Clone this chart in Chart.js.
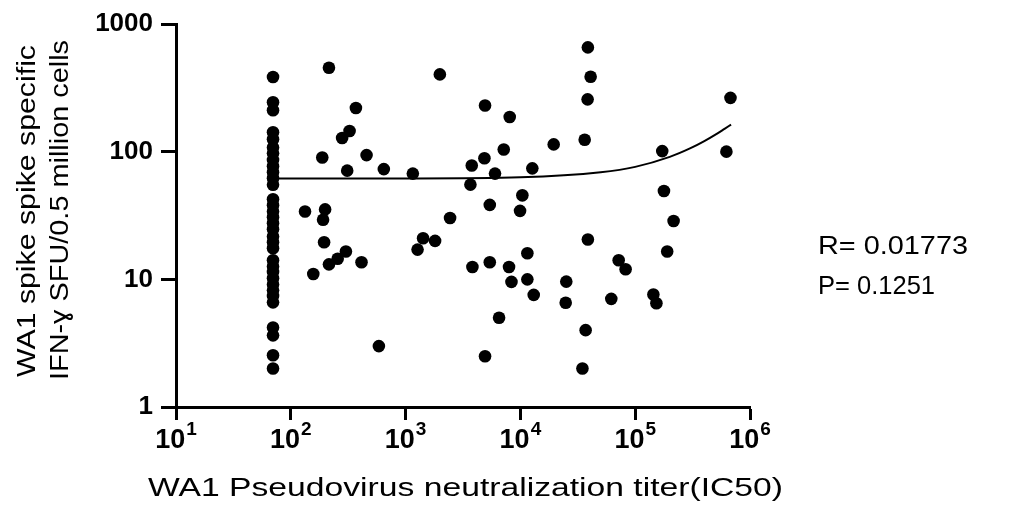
<!DOCTYPE html>
<html>
<head>
<meta charset="utf-8">
<script src="https://cdn.jsdelivr.net/npm/chart.js@4.4.1/dist/chart.umd.min.js"></script>
<style>
html,body{margin:0;padding:0;background:#fff;}
#wrap{width:1014px;height:527px;}
</style>
</head>
<body>
<div id="wrap"><canvas id="c" width="1014" height="527"></canvas></div>
<script>
// ---- data ----
const xTickValues = [10, 100, 1000, 10000, 100000, 1000000];
const xTickExponents = ['1', '2', '3', '4', '5', '6'];
const yTickValues = [1, 10, 100, 1000];
const yTickLabels = ['1', '10', '100', '1000'];

// samples at the detection limit (titer = 70)
const lodTiter = [70,70,70,70,70,70,70,70,70,70,70,70,70,70,70,70,70,70,70,70,70,70,70,70,70,70,70,70,70,70,70,70,70];
const lodSFU = [384,244,211,142,125,108,97,86,77,69,62,55,42.4,38,34,30.6,27.5,24.7,21.7,19.5,17.5,14.1,12.6,11.4,10.2,9.1,8.2,7.4,6.6,4.2,3.64,2.54,2.0];

// samples above the detection limit
const titerIC50 = [215,369,325,280,188,457,310,133,199,191,195,302,256,215,157,413,
  1988,4920,8070,19500,7160,4860,3770,12700,646,1156,6010,3670,10400,5410,9930,2440,
  1420,1806,1271,11500,3820,5410,7960,8360,11500,13060,6520,585,4920,
  38700,40900,38500,676000,36300,172000,623000,178000,216000,38700,190000,71800,82500,
  25100,24800,61900,144000,153000,37000,34700];
const sfuValues = [454,220,145,128,90,94,71,34,35.3,29.3,19.5,16.5,14.5,13.1,11.0,13.6,
  403,230,187,114,104,88.7,78,74,73,67.3,67.3,55.2,45.5,38.3,34.4,30.2,
  21.0,20.0,17.1,16.0,12.5,13.6,12.5,9.55,10.0,7.55,5.0,3.0,2.5,
  656,386,257,264,124,101,100,49.2,28.6,20.5,16.5,14.1,12.0,
  9.6,6.55,7.03,7.6,6.5,4.0,2.0];

// fitted line
const fitX = [70, 1000, 10000, 50000, 100000, 200000, 300000, 400000, 500000, 600000, 684000];
const fitY = [61.6, 61.7, 63, 69, 76, 91, 106, 121, 136, 151, 163];

const statR = 'R= 0.01773';
const statP = 'P= 0.1251';
const xTitle = 'WA1 Pseudovirus neutralization titer(IC50)';
const yTitleLines = ['WA1 spike spike specific', 'IFN-\u0263 SFU/0.5 million cells'];

// ---- build ----
const pts = [];
lodTiter.forEach((x, i) => pts.push({x: x, y: lodSFU[i]}));
titerIC50.forEach((x, i) => pts.push({x: x, y: sfuValues[i]}));
const fitPts = fitX.map((x, i) => ({x: x, y: fitY[i]}));

const FONT = '"Liberation Sans", Arial, Helvetica, sans-serif';

function fitText(ctx, text, x, y, size, weight, targetW, align) {
  ctx.save();
  ctx.font = weight + ' ' + size + 'px ' + FONT;
  const w = ctx.measureText(text).width;
  const sx = targetW ? targetW / w : 1;
  ctx.translate(x, y);
  ctx.scale(sx, 1);
  ctx.textBaseline = 'alphabetic';
  let ox = 0;
  if (align === 'center') ox = -w / 2;
  else if (align === 'right') ox = -w;
  ctx.textAlign = 'left';
  ctx.fillText(text, ox, 0);
  ctx.restore();
}

const textPlugin = {
  id: 'texts',
  beforeDraw(chart) {
    const ctx = chart.ctx;
    ctx.save();
    ctx.fillStyle = '#fff';
    ctx.fillRect(0, 0, chart.width, chart.height);
    ctx.restore();
  },
  afterDraw(chart) {
    const ctx = chart.ctx;
    const xs = chart.scales.x;
    ctx.save();
    ctx.fillStyle = '#000';
    // x tick labels 10^n
    xTickValues.forEach((v, i) => {
      const px = xs.getPixelForValue(v);
      ctx.font = 'bold 27px ' + FONT;
      const w1 = ctx.measureText('10').width;
      ctx.font = 'bold 19px ' + FONT;
      const w2 = ctx.measureText(xTickExponents[i]).width;
      const left = px - (w1 + w2 + 1) / 2;
      ctx.font = 'bold 27px ' + FONT;
      ctx.textAlign = 'left';
      ctx.textBaseline = 'alphabetic';
      ctx.fillText('10', left, 448);
      ctx.font = 'bold 19px ' + FONT;
      ctx.fillText(xTickExponents[i], left + w1 + 1, 435);
    });
    // x title
    fitText(ctx, xTitle, 465.5, 496, 26, 'normal', 635, 'center');
    // y title (rotated)
    const yCenters = [[35, 211, 332], [68, 210, 340]];
    yTitleLines.forEach((t, i) => {
      ctx.save();
      ctx.translate(yCenters[i][0], yCenters[i][1]);
      ctx.rotate(-Math.PI / 2);
      fitText(ctx, t, 0, 0, 26, 'normal', yCenters[i][2], 'center');
      ctx.restore();
    });
    // stats
    fitText(ctx, statR, 818, 254, 25, 'normal', 150, 'left');
    fitText(ctx, statP, 818, 294, 25, 'normal', 117, 'left');
    ctx.restore();
  }
};

new Chart(document.getElementById('c'), {
  type: 'scatter',
  data: {
    datasets: [
      {
        label: 'samples',
        data: pts,
        order: 0,
        pointRadius: 6.3,
        pointHoverRadius: 6.3,
        pointBackgroundColor: '#000',
        pointBorderWidth: 0,
        showLine: false
      },
      {
        type: 'line',
        label: 'fit',
        data: fitPts,
        order: 1,
        borderColor: '#000',
        borderWidth: 2,
        pointRadius: 0,
        fill: false,
        cubicInterpolationMode: 'monotone'
      }
    ]
  },
  options: {
    responsive: false,
    animation: false,
    events: [],
    layout: {padding: {left: 0, right: 264, top: 24, bottom: 0}},
    plugins: {legend: {display: false}, tooltip: {enabled: false}},
    scales: {
      x: {
        type: 'logarithmic',
        min: 10,
        max: 1000000,
        afterBuildTicks: (s) => { s.ticks = xTickValues.map(v => ({value: v})); },
        afterFit: (s) => { s.height = 120; },
        ticks: {display: false},
        grid: {display: true, drawOnChartArea: false, drawTicks: true, tickLength: 13, tickWidth: 3, tickColor: '#000', color: '#000'},
        border: {display: true, width: 3, color: '#000'}
      },
      y: {
        type: 'logarithmic',
        min: 1,
        max: 1000,
        afterBuildTicks: (s) => { s.ticks = yTickValues.map(v => ({value: v})); },
        afterFit: (s) => { s.width = 176; },
        ticks: {
          color: '#000',
          padding: 8,
          font: {family: FONT, size: 26, weight: 'bold'},
          callback: (v) => { const i = yTickValues.indexOf(v); return i >= 0 ? yTickLabels[i] : ''; }
        },
        grid: {display: true, drawOnChartArea: false, drawTicks: true, tickLength: 15, tickWidth: 3, tickColor: '#000', color: '#000'},
        border: {display: true, width: 3, color: '#000'}
      }
    }
  },
  plugins: [textPlugin]
});
</script>
</body>
</html>
